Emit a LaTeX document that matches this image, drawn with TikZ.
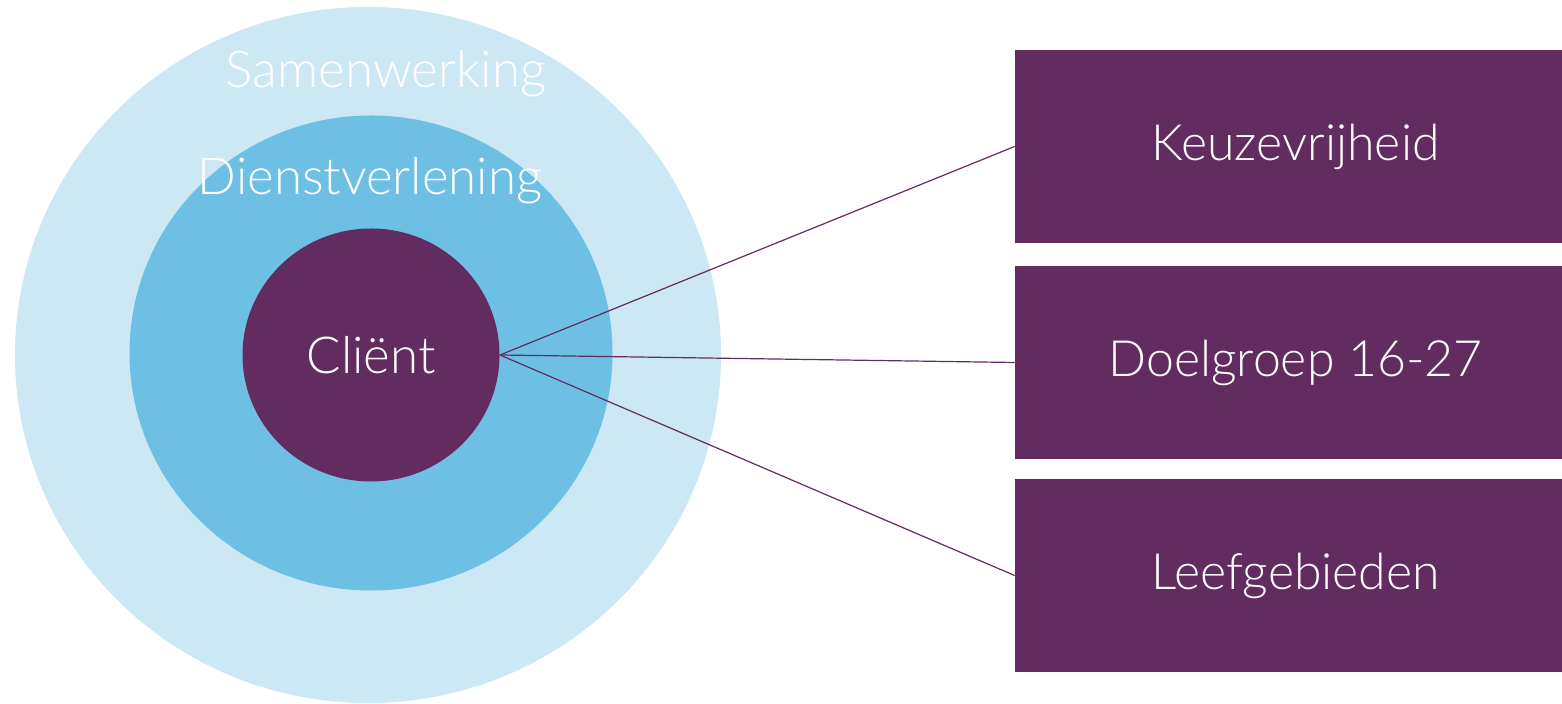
\documentclass[tikz,border=0pt]{standalone}
\usepackage{fontspec}
\setmainfont{Lato Light}
\usetikzlibrary{shapes.geometric}
\definecolor{paars}{HTML}{632C60}
\definecolor{lichtblauw}{HTML}{CBE8F4}
\definecolor{middenblauw}{HTML}{6DBFE3}
\tikzset{
  ring/.style={ellipse,inner sep=0pt,draw=none},
  blok/.style={rectangle,fill=paars,text=white,minimum width=273.5pt,minimum height=96.5pt,inner sep=0pt,font=\fontsize{25}{29}\selectfont,execute at begin node=\hspace*{7pt}},
  tekst/.style={text=white,font=\fontsize{25.5}{29}\selectfont}
  ,lijn/.style={draw=paars,line width=0.6pt}
}
\begin{document}
\begin{tikzpicture}[x=0.5pt,y=-0.5pt]
\useasboundingbox (0,0) rectangle (1562,704);
\node[ring,fill=lichtblauw,minimum width=353pt,minimum height=348pt](samen) at (368,355){};
\node[ring,fill=middenblauw,minimum width=241.5pt,minimum height=237.5pt](dienst) at (371,353){};
\node[ring,fill=paars,minimum width=128.5pt,minimum height=126.5pt,tekst](client) at (371,355){Cliënt};
\node[tekst](samenlabel) at (386,74){Samenwerking};
\node[tekst](dienstlabel) at (370,181){Dienstverlening};
\node[blok](keuze) at (1288.5,146.5){Keuzevrijheid};
\node[blok](doel) at (1288.5,362.5){Doelgroep 16-27};
\node[blok](leef) at (1288.5,575.5){Leefgebieden};
\draw[lijn](client.east)--(keuze.west);
\draw[lijn](client.east)--(doel.west);
\draw[lijn](client.east)--(leef.west);
\end{tikzpicture}
\end{document}
